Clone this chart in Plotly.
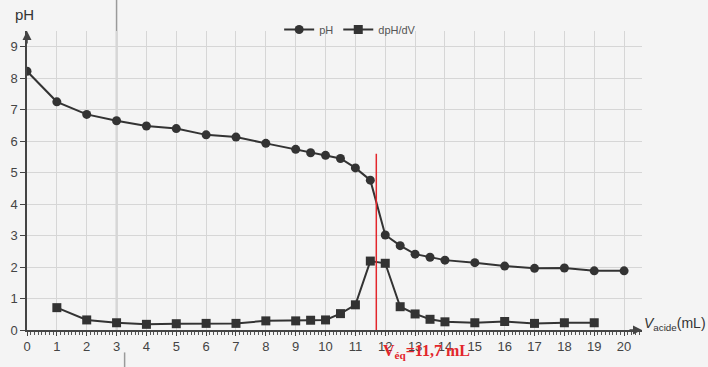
import plotly.graph_objects as go

# ---- data ----
v_ph = [0, 1, 2, 3, 4, 5, 6, 7, 8, 9, 9.5, 10, 10.5, 11, 11.5, 12, 12.5, 13, 13.5, 14, 15, 16, 17, 18, 19, 20]
ph = [8.22, 7.25, 6.85, 6.65, 6.48, 6.40, 6.20, 6.13, 5.93, 5.74, 5.63, 5.55, 5.45, 5.15, 4.76,
      3.02, 2.68, 2.41, 2.31, 2.22, 2.14, 2.03, 1.96, 1.97, 1.88, 1.88]

v_d = [1, 2, 3, 4, 5, 6, 7, 8, 9, 9.5, 10, 10.5, 11, 11.5, 12, 12.5, 13, 13.5, 14, 15, 16, 17, 18, 19]
dph = [0.71, 0.32, 0.23, 0.18, 0.20, 0.21, 0.21, 0.29, 0.29, 0.31, 0.32, 0.52, 0.80, 2.19, 2.12,
       0.74, 0.51, 0.34, 0.26, 0.23, 0.27, 0.21, 0.23, 0.23]

x_ticks = list(range(0, 21))
y_ticks = list(range(0, 10))
v_eq = 11.7
v_eq_top = 5.6
marked_v = 3

X_MAX = 20.6
Y_MAX = 9.5
LINE = "#333333"
BG = "#f4f4f4"

fig = go.Figure()
fig.add_trace(go.Scatter(x=v_ph, y=ph, mode="lines+markers", name="pH",
                         line=dict(color=LINE, width=2),
                         marker=dict(symbol="circle", size=9, color=LINE)))
fig.add_trace(go.Scatter(x=v_d, y=dph, mode="lines+markers", name="dpH/dV",
                         line=dict(color=LINE, width=2),
                         marker=dict(symbol="square", size=9, color=LINE)))

# gray vertical line at V = 3 (scan mark) and red equivalence line
fig.add_shape(type="line", xref="x", yref="paper", x0=marked_v, x1=marked_v, y0=0, y1=1.2,
              line=dict(color="#9a9a9a", width=1.5), layer="below")
fig.add_shape(type="line", xref="x", yref="paper", x0=marked_v + 0.27, x1=marked_v + 0.27,
              y0=-0.075, y1=-0.14, line=dict(color="#9a9a9a", width=1.5))
fig.add_shape(type="line", xref="x", yref="y", x0=v_eq, x1=v_eq, y0=0, y1=v_eq_top,
              line=dict(color="#e3262b", width=1.5))

# axis arrows
fig.add_annotation(x=X_MAX, y=0, xref="x", yref="y", ax=-14, ay=0, axref="pixel", ayref="pixel",
                   showarrow=True, arrowhead=2, arrowsize=1.2, arrowwidth=1.5, arrowcolor="#444", text="")
fig.add_annotation(x=0, y=Y_MAX, xref="x", yref="y", ax=0, ay=14, showarrow=True, arrowhead=2,
                   arrowsize=1.2, arrowwidth=1.5, arrowcolor="#444", text="")

# labels
fig.add_annotation(x=1.0, y=0, xref="paper", yref="paper", xanchor="left", yanchor="middle", yshift=6,
                   text="<i>V</i><sub>acide</sub>(mL)", showarrow=False,
                   font=dict(family="Liberation Sans, Arial", size=14, color="#333"))
fig.add_annotation(x=0, y=1, xref="paper", yref="paper", xanchor="center", yanchor="bottom", yshift=6,
                   xshift=-3, text="pH", showarrow=False,
                   font=dict(family="Liberation Sans, Arial", size=15, color="#333"))
fig.add_annotation(x=v_eq, y=0, xref="x", yref="y", xanchor="left", yanchor="middle",
                   xshift=5, yshift=-21,
                   text="<b>V<sub>éq</sub>=11,7 mL</b>", showarrow=False,
                   font=dict(family="Liberation Serif, Times New Roman", size=16, color="#e3262b"))

axis_font = dict(family="Liberation Sans, Arial", size=13, color="#444")
fig.update_layout(
    width=708, height=367,
    margin=dict(l=27, r=66, t=31, b=37, autoexpand=False),
    paper_bgcolor=BG, plot_bgcolor=BG,
    showlegend=True,
    legend=dict(orientation="h", x=0.41, y=1.005, xanchor="left", yanchor="middle",
                bgcolor="rgba(0,0,0,0)", font=dict(family="Liberation Sans, Arial", size=11, color="#555"),
                itemwidth=30, tracegroupgap=0),
    xaxis=dict(range=[0, X_MAX], tickvals=x_ticks, ticktext=[str(t) for t in x_ticks],
               showgrid=True, gridcolor="#d6d6d6", gridwidth=1, zeroline=False, automargin=False,
               showline=True, linecolor="#444", linewidth=1.5,
               ticks="outside", ticklen=4, tickcolor="#444", tickwidth=1.2,
               minor=dict(dtick=0.125, ticks="outside", ticklen=3, tickcolor="#555", showgrid=False),
               tickfont=axis_font),
    yaxis=dict(range=[0, Y_MAX], tickvals=y_ticks, ticktext=[str(t) for t in y_ticks],
               showgrid=True, gridcolor="#d6d6d6", gridwidth=1, zeroline=False, automargin=False,
               showline=True, linecolor="#444", linewidth=1.5,
               ticks="outside", ticklen=5, tickcolor="#444", tickwidth=1.2,
               tickfont=axis_font),
    xaxis2=dict(overlaying="x", matches="x", range=[0, X_MAX], tickvals=x_ticks, showticklabels=False,
                showgrid=False, zeroline=False, ticks="inside", ticklen=3, tickcolor="#444",
                tickwidth=1.2, anchor="y", side="bottom", automargin=False),
    yaxis2=dict(overlaying="y", matches="y", range=[0, Y_MAX], tickvals=y_ticks, showticklabels=False,
                showgrid=False, zeroline=False, ticks="inside", ticklen=4, tickcolor="#444",
                tickwidth=1.2, anchor="x", side="left", automargin=False),
)

fig.write_html("out.html", config={"displayModeBar": False},
               post_script="document.body.style.margin='0';document.body.style.overflow='hidden';")
